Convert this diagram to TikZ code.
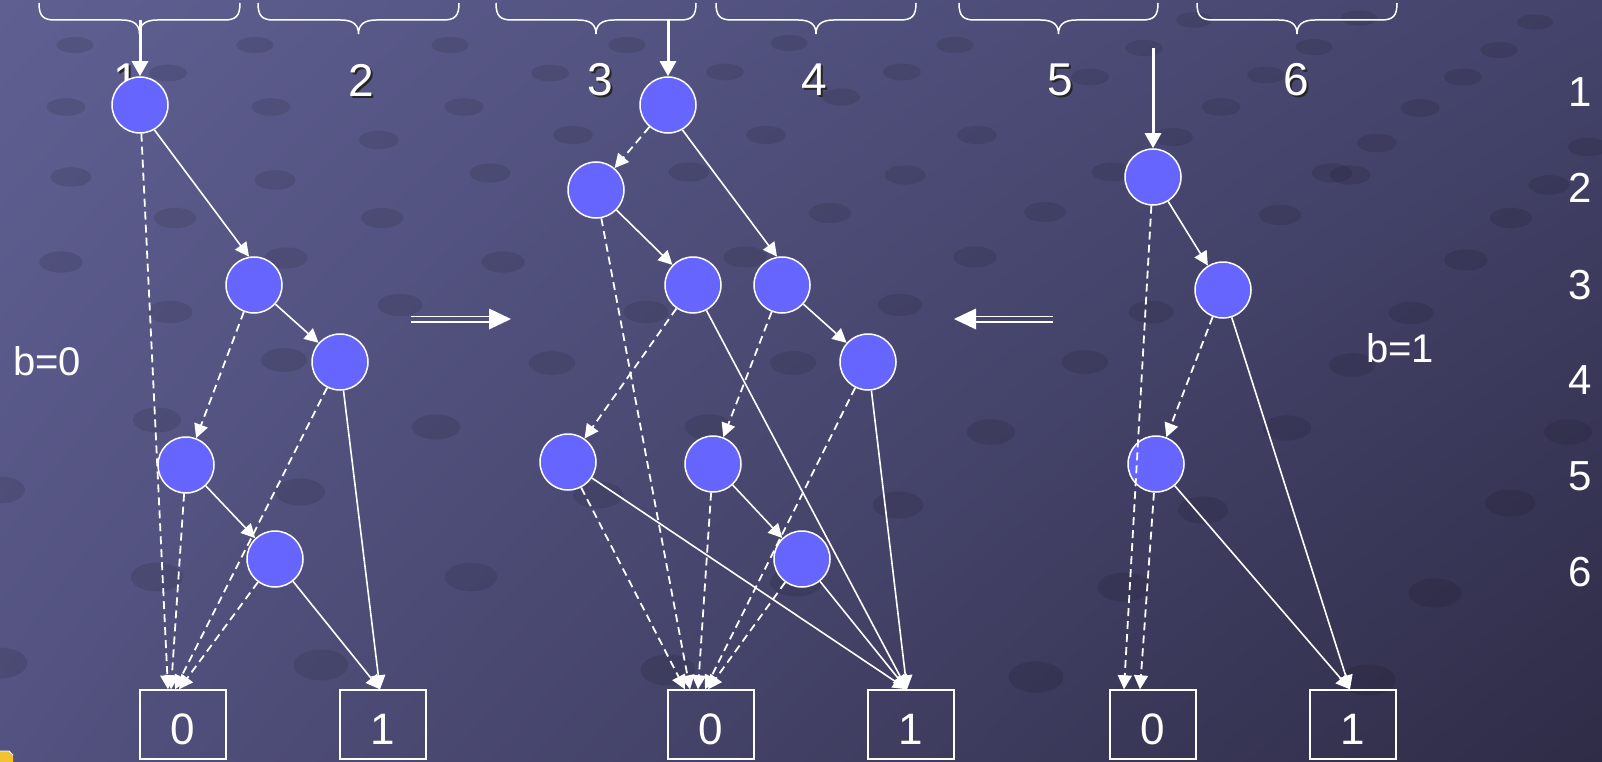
\documentclass[tikz,border=0pt]{standalone}
\usepackage{fontspec}
\setmainfont{Liberation Sans}
\usetikzlibrary{arrows.meta,calc,shadings}
\definecolor{bgUL}{HTML}{5F5F92}
\definecolor{bgUR}{HTML}{44436B}
\definecolor{bgLL}{HTML}{535280}
\definecolor{bgLR}{HTML}{2E2C46}
\definecolor{vfill}{HTML}{6666FF}
\definecolor{iconyellow}{HTML}{F2C230}
\tikzset{
  vert/.style={circle, fill=vfill, draw=white, line width=1.5pt, minimum size=56pt, inner sep=0pt},
  term/.style={rectangle, draw=white, line width=1.4pt, minimum width=86pt, minimum height=69pt, inner sep=0pt},
  termtxt/.style={text=white, font=\fontsize{44}{48}\selectfont, inner sep=0pt},
  hi/.style={draw=white, line width=1.6pt, -{Triangle[length=14pt,width=14pt]}},
  lo/.style={hi, line width=1.8pt, dash pattern=on 8pt off 5pt},
  feed/.style={draw=white, line width=3pt, -{Triangle[length=15pt,width=16pt]}},
  toplbl/.style={text=white, font=\fontsize{46}{50}\selectfont, inner sep=0pt},
  sidelbl/.style={text=white, font=\fontsize{42}{46}\selectfont, inner sep=0pt},
  blbl/.style={text=white, font=\fontsize{40}{44}\selectfont, inner sep=0pt},
  bracepath/.style={draw=white, line width=1.5pt},
  dblshaft/.style={draw=white, line width=1.8pt},
  spot/.style={fill=black, fill opacity=0.10},
}
\newcommand{\curlybrace}[3]{%
  \draw[bracepath] (#1,3) .. controls (#1,16) and (#1+4,20) .. (#1+16,20)
    -- (#2-18,20) .. controls (#2-5,20) and (#2,25) .. (#2,34)
    .. controls (#2,25) and (#2+5,20) .. (#2+18,20)
    -- (#3-16,20) .. controls (#3-4,20) and (#3,16) .. (#3,3);
}
\begin{document}
\begin{tikzpicture}[x=1pt,y=-1pt]
\useasboundingbox (0,0) rectangle (1602,762);
\shade[upper left=bgUL, upper right=bgUR, lower left=bgLL, lower right=bgLR] (0,0) rectangle (1602,762);

% background texture spots
\foreach \px/\py in {75/45,255/45,168/73,450/45,66/107,271/107,464/107,71/177,275/180,379/140,
  490/173,175/218,382/218,61/262,286/258,503/262,170/312,400/305,284/360,
  627/45,550/73,725/72,573/135,766/135,689/172,789/43,841/97,902/72,955/45,977/135,905/175,
  830/213,1045/212,745/257,975/257,900/305,646/312,552/363,793/363,
  1090/77,1144/48,1194/20,1221/107,1173/137,1112/172,1280/215,1332/173,1377/143,1420/108,
  1463/77,1499/50,1535/22,1314/47,1359/18,1266/75,1466/260,1411/313,1511/218,1549/185,
  1588/147,1151/312,1085/362,1352/365,1350/175,1568/432,1510/503,1435/593,1368/680,
  1287/428,1203/510,1124/587,1036/677,709/427,598/495,991/432,898/505,796/582,668/670,
  157/420,300/492,436/427,157/577,471/577,321/665,0/490,0/663}{
  \fill[spot] (\px,\py) ellipse [x radius={18+0.014*\py}, y radius={7.5+0.012*\py}];
}

% small icon bottom-left
\fill[iconyellow] (0,751) -- (9,751) -- (13,755) -- (13,762) -- (0,762) -- cycle;
\draw[white, line width=0.8pt] (0,751) -- (9,751) -- (13,755);

% top labels with shadow
\foreach \t/\x in {1/126,2/361,3/600,4/814,5/1060,6/1296}{
  \node[toplbl, text=black!85] (ts\t) at (\x+2,82) {\t};
  \node[toplbl] (t\t) at (\x,80) {\t};
}
% braces
\curlybrace{39}{139.5}{240}
\curlybrace{258}{358.5}{459}
\curlybrace{496}{596}{696}
\curlybrace{716}{816}{916}
\curlybrace{959}{1058.5}{1158}
\curlybrace{1197}{1297}{1397}

% side labels
\foreach \t/\y in {1/92,2/188,3/285,4/380,5/476,6/572}{
  \node[sidelbl] (s\t) at (1580,\y) {\t};
}
\node[blbl] (b0) at (47,361) {b=0};
\node[blbl] (b1) at (1400,348) {b=1};

% left tree
\node[vert] (A1) at (140,105) {};
\node[vert] (A2) at (254,285) {};
\node[vert] (A3) at (340,362) {};
\node[vert] (A4) at (186,465) {};
\node[vert] (A5) at (275,559) {};
\node[term] (L0) at (183,724.5) {};
\node[term] (L1) at (383,724.5) {};
\node[termtxt] (L0t) at ($(L0)+(0,5)$) {0};
\node[termtxt] (L1t) at ($(L1)+(0,5)$) {1};

% middle tree
\node[vert] (B1) at (668,105) {};
\node[vert] (B2) at (596,190) {};
\node[vert] (B3) at (693,285) {};
\node[vert] (B4) at (782,285) {};
\node[vert] (B5) at (868,362) {};
\node[vert] (B6) at (568,462) {};
\node[vert] (B7) at (713,464) {};
\node[vert] (B8) at (802,559) {};
\node[term] (M0) at (711,724.5) {};
\node[term] (M1) at (911,724.5) {};
\node[termtxt] (M0t) at ($(M0)+(0,5)$) {0};
\node[termtxt] (M1t) at ($(M1)+(0,5)$) {1};

% right tree
\node[vert] (C1) at (1153,177) {};
\node[vert] (C2) at (1223,290) {};
\node[vert] (C3) at (1156,464) {};
\node[term] (R0) at (1153,724.5) {};
\node[term] (R1) at (1353,724.5) {};
\node[termtxt] (R0t) at ($(R0)+(0,5)$) {0};
\node[termtxt] (R1t) at ($(R1)+(0,5)$) {1};

% feed arrows
\coordinate (f1) at (140,20);
\coordinate (f3) at (668,20);
\coordinate (f5) at (1153,48);
\draw[feed] (f1) -- (A1);
\draw[feed] (f3) -- (B1);
\draw[feed] (f5) -- (C1);

% left edges
\draw[hi] (A1.-60) -- (A2.100);
\draw[lo] (A1) -- ($(L0.north)+(-15,0)$);
\draw[hi] (A2) -- (A3);
\draw[lo] (A2) -- (A4);
\draw[lo] (A3) -- ($(L0.north)+(-8,0)$);
\draw[hi] (A3) -- ($(L1.north)+(-3,0)$);
\draw[hi] (A4) -- (A5);
\draw[lo] (A4) -- ($(L0.north)+(-12,0)$);
\draw[lo] (A5) -- ($(L0.north)+(-4,0)$);
\draw[hi] (A5) -- ($(L1.north)+(-3,0)$);

% middle edges
\draw[lo] (B1) -- (B2);
\draw[hi] (B1.-60) -- (B4.100);
\draw[hi] (B2) -- (B3);
\draw[lo] (B2) -- ($(M0.north)+(-21,0)$);
\draw[lo] (B3) -- (B6);
\draw[hi] (B3) -- ($(M1.north)+(-4,0)$);
\draw[hi] (B4) -- (B5);
\draw[lo] (B4) -- (B7);
\draw[lo] (B5) -- ($(M0.north)+(-6,0)$);
\draw[hi] (B5) -- ($(M1.north)+(-4,0)$);
\draw[lo] (B6) -- ($(M0.north)+(-26,0)$);
\draw[hi] (B6) -- ($(M1.north)+(-4,0)$);
\draw[lo] (B7) -- ($(M0.north)+(-13,0)$);
\draw[hi] (B7) -- (B8);
\draw[lo] (B8) -- ($(M0.north)+(-3,0)$);
\draw[hi] (B8) -- ($(M1.north)+(-4,0)$);

% right edges
\draw[hi] (C1) -- (C2);
\draw[lo] (C1) -- ($(R0.north)+(-29,0)$);
\draw[lo] (C2) -- (C3);
\draw[hi] (C2) -- ($(R1.north)+(-3,0)$);
\draw[lo] (C3) -- ($(R0.north)+(-13,0)$);
\draw[hi] (C3) -- ($(R1.north)+(-3,0)$);

% double arrows
\coordinate (da0) at (411,319);
\coordinate (da1) at (511,319);
\draw[dblshaft] ($(da0)+(0,-2.6)$) -- ($(da1)+(-21,-2.6)$);
\draw[dblshaft] ($(da0)+(0,2.6)$) -- ($(da1)+(-21,2.6)$);
\fill[white] (da1) -- ($(da1)+(-22,-10.5)$) -- ($(da1)+(-22,10.5)$) -- cycle;

\coordinate (db0) at (1053,319);
\coordinate (db1) at (954,319);
\draw[dblshaft] ($(db0)+(0,-2.6)$) -- ($(db1)+(21,-2.6)$);
\draw[dblshaft] ($(db0)+(0,2.6)$) -- ($(db1)+(21,2.6)$);
\fill[white] (db1) -- ($(db1)+(22,-10.5)$) -- ($(db1)+(22,10.5)$) -- cycle;
\end{tikzpicture}
\end{document}
